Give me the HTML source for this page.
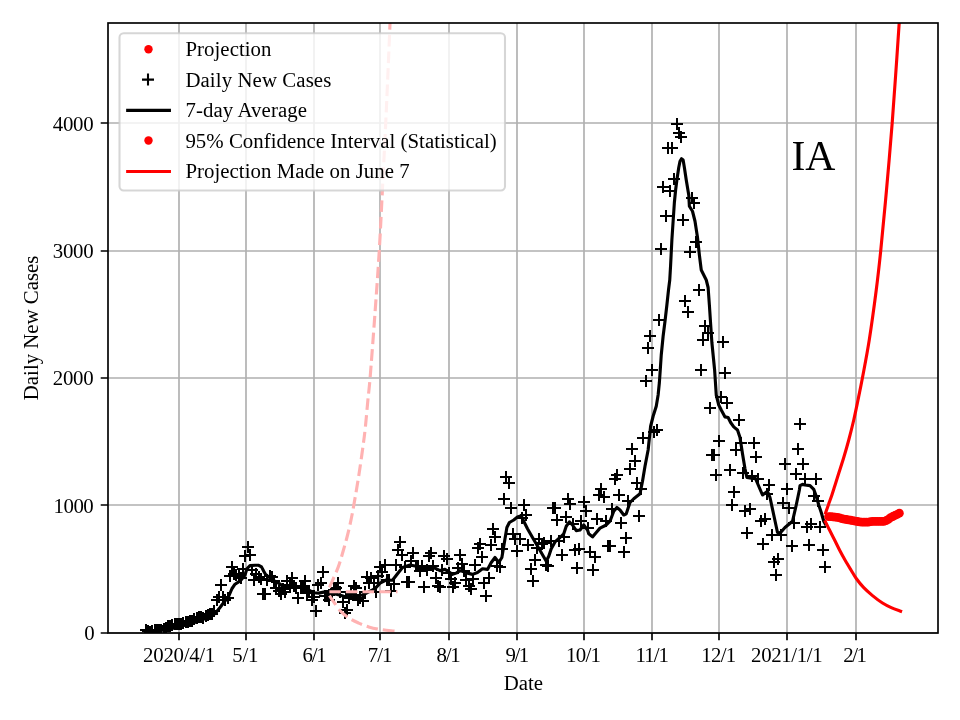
<!DOCTYPE html>
<html lang="en"><head><meta charset="utf-8"><title>IA Daily New Cases</title>
<style>html,body{margin:0;padding:0;background:#fff}body{width:960px;height:720px;overflow:hidden}svg{display:block}text{font-family:"Liberation Serif","Times New Roman",serif;font-size:20.833px;fill:#000}</style>
</head><body>
<svg width="960" height="720" viewBox="0 0 960 720">
<rect width="960" height="720" fill="#fff"/>
<clipPath id="ax"><rect x="108" y="23" width="830" height="610"/></clipPath>
<path d="M179 633 V23 M246 633 V23 M314 633 V23 M380 633 V23 M449 633 V23 M517 633 V23 M584 633 V23 M652 633 V23 M719 633 V23 M787 633 V23 M856 633 V23 M108 633 H938 M108 505 H938 M108 378 H938 M108 251 H938 M108 123 H938" stroke="#b0b0b0" stroke-width="1.667" fill="none"/>
<path d="M179 633 v7.29 M246 633 v7.29 M314 633 v7.29 M380 633 v7.29 M449 633 v7.29 M517 633 v7.29 M584 633 v7.29 M652 633 v7.29 M719 633 v7.29 M787 633 v7.29 M856 633 v7.29 M108 633 h-7.29 M108 505 h-7.29 M108 378 h-7.29 M108 251 h-7.29 M108 123 h-7.29" stroke="#000" stroke-width="1.667" fill="none"/>
<g text-anchor="middle">
<text x="179.18" y="661.8" textLength="72.18">2020/4/1</text>
<text x="245.35" y="661.8" textLength="26">5/1</text>
<text x="314.59" y="661.8" textLength="24.33">6/1</text>
<text x="380.1" y="661.8" textLength="24.74">7/1</text>
<text x="448.62" y="661.8" textLength="24.07">8/1</text>
<text x="517.34" y="661.8" textLength="23.86">9/1</text>
<text x="583.42" y="661.8" textLength="35.07">10/1</text>
<text x="652.26" y="661.8" textLength="33.41">11/1</text>
<text x="718.69" y="661.8" textLength="34.99">12/1</text>
<text x="786.89" y="661.8" textLength="71.66">2021/1/1</text>
<text x="855.09" y="661.8" textLength="23.62">2/1</text>
<text x="523.3" y="689.8">Date</text>
</g>
<g text-anchor="end">
<text x="94.6" y="639.7" textLength="10.3">0</text>
<text x="93.7" y="512.9" textLength="40.1">1000</text>
<text x="93.7" y="384.75" textLength="41">2000</text>
<text x="93.7" y="258.3" textLength="41">3000</text>
<text x="93.7" y="130.8" textLength="41">4000</text>
</g>
<text text-anchor="middle" transform="translate(38.3 327.9) rotate(-90)">Daily New Cases</text>
<g clip-path="url(#ax)" fill="none">
<path d="M140 630h12m-6 -6v12M142 631h12m-6 -6v12M144 632h12m-6 -6v12M146 631h12m-6 -6v12M149 630h12m-6 -6v12M151 630h12m-6 -6v12M153 630h12m-6 -6v12M155 630h12m-6 -6v12M158 629h12m-6 -6v12M160 628h12m-6 -6v12M162 626h12m-6 -6v12M164 626h12m-6 -6v12M166 625h12m-6 -6v12M169 624h12m-6 -6v12M171 624h12m-6 -6v12M173 624h12m-6 -6v12M175 624h12m-6 -6v12M177 623h12m-6 -6v12M180 622h12m-6 -6v12M182 622h12m-6 -6v12M184 621h12m-6 -6v12M186 621h12m-6 -6v12M188 619h12m-6 -6v12M191 618h12m-6 -6v12M193 617h12m-6 -6v12M195 617h12m-6 -6v12M197 618h12m-6 -6v12M200 616h12m-6 -6v12M202 615h12m-6 -6v12M204 614h12m-6 -6v12M206 614h12m-6 -6v12M208 611h12m-6 -6v12M211 600h12m-6 -6v12M213 597h12m-6 -6v12M215 585h12m-6 -6v12M217 597h12m-6 -6v12M219 600h12m-6 -6v12M222 598h12m-6 -6v12M224 576h12m-6 -6v12M226 567h12m-6 -6v12M228 574h12m-6 -6v12M230 575h12m-6 -6v12M233 576h12m-6 -6v12M235 578h12m-6 -6v12M237 569h12m-6 -6v12M239 556h12m-6 -6v12M242 547h12m-6 -6v12M244 555h12m-6 -6v12M246 570h12m-6 -6v12M248 580h12m-6 -6v12M250 574h12m-6 -6v12M253 577h12m-6 -6v12M255 579h12m-6 -6v12M257 594h12m-6 -6v12M259 594h12m-6 -6v12M261 580h12m-6 -6v12M264 576h12m-6 -6v12M266 577h12m-6 -6v12M268 581h12m-6 -6v12M270 588h12m-6 -6v12M273 591h12m-6 -6v12M275 594h12m-6 -6v12M277 589h12m-6 -6v12M279 592h12m-6 -6v12M281 581h12m-6 -6v12M284 585h12m-6 -6v12M286 578h12m-6 -6v12M288 586h12m-6 -6v12M290 588h12m-6 -6v12M292 598h12m-6 -6v12M295 588h12m-6 -6v12M297 586h12m-6 -6v12M299 581h12m-6 -6v12M301 593h12m-6 -6v12M303 591h12m-6 -6v12M306 600h12m-6 -6v12M308 597h12m-6 -6v12M310 611h12m-6 -6v12M312 585h12m-6 -6v12M315 583h12m-6 -6v12M317 572h12m-6 -6v12M319 596h12m-6 -6v12M321 596h12m-6 -6v12M323 600h12m-6 -6v12M326 594h12m-6 -6v12M328 590h12m-6 -6v12M330 588h12m-6 -6v12M332 583h12m-6 -6v12M334 592h12m-6 -6v12M337 602h12m-6 -6v12M339 613h12m-6 -6v12M341 610h12m-6 -6v12M343 598h12m-6 -6v12M345 594h12m-6 -6v12M348 586h12m-6 -6v12M350 588h12m-6 -6v12M352 600h12m-6 -6v12M354 598h12m-6 -6v12M357 601h12m-6 -6v12M359 592h12m-6 -6v12M361 577h12m-6 -6v12M363 583h12m-6 -6v12M365 578h12m-6 -6v12M368 583h12m-6 -6v12M370 592h12m-6 -6v12M372 576h12m-6 -6v12M374 567h12m-6 -6v12M376 572h12m-6 -6v12M379 565h12m-6 -6v12M381 580h12m-6 -6v12M383 580h12m-6 -6v12M385 591h12m-6 -6v12M388 584h12m-6 -6v12M390 565h12m-6 -6v12M392 550h12m-6 -6v12M394 542h12m-6 -6v12M396 555h12m-6 -6v12M399 567h12m-6 -6v12M401 582h12m-6 -6v12M403 582h12m-6 -6v12M405 561h12m-6 -6v12M407 553h12m-6 -6v12M410 566h12m-6 -6v12M412 566h12m-6 -6v12M414 571h12m-6 -6v12M416 566h12m-6 -6v12M418 587h12m-6 -6v12M421 570h12m-6 -6v12M423 556h12m-6 -6v12M425 553h12m-6 -6v12M427 566h12m-6 -6v12M430 578h12m-6 -6v12M432 586h12m-6 -6v12M434 587h12m-6 -6v12M436 570h12m-6 -6v12M438 556h12m-6 -6v12M441 559h12m-6 -6v12M443 573h12m-6 -6v12M445 579h12m-6 -6v12M447 587h12m-6 -6v12M449 583h12m-6 -6v12M452 568h12m-6 -6v12M454 555h12m-6 -6v12M456 564h12m-6 -6v12M458 571h12m-6 -6v12M460 580h12m-6 -6v12M463 586h12m-6 -6v12M465 589h12m-6 -6v12M467 579h12m-6 -6v12M469 565h12m-6 -6v12M472 548h12m-6 -6v12M474 544h12m-6 -6v12M476 557h12m-6 -6v12M478 583h12m-6 -6v12M480 596h12m-6 -6v12M483 578h12m-6 -6v12M485 545h12m-6 -6v12M487 529h12m-6 -6v12M489 537h12m-6 -6v12M491 566h12m-6 -6v12M494 567h12m-6 -6v12M496 549h12m-6 -6v12M498 499h12m-6 -6v12M500 477h12m-6 -6v12M503 483h12m-6 -6v12M505 508h12m-6 -6v12M507 534h12m-6 -6v12M509 539h12m-6 -6v12M511 551h12m-6 -6v12M514 539h12m-6 -6v12M516 518h12m-6 -6v12M518 505h12m-6 -6v12M520 515h12m-6 -6v12M522 545h12m-6 -6v12M525 569h12m-6 -6v12M527 581h12m-6 -6v12M529 560h12m-6 -6v12M531 548h12m-6 -6v12M533 539h12m-6 -6v12M536 544h12m-6 -6v12M538 543h12m-6 -6v12M540 565h12m-6 -6v12M542 566h12m-6 -6v12M545 541h12m-6 -6v12M547 508h12m-6 -6v12M549 508h12m-6 -6v12M551 520h12m-6 -6v12M553 541h12m-6 -6v12M556 555h12m-6 -6v12M558 537h12m-6 -6v12M560 517h12m-6 -6v12M562 499h12m-6 -6v12M564 504h12m-6 -6v12M567 524h12m-6 -6v12M569 550h12m-6 -6v12M571 568h12m-6 -6v12M573 549h12m-6 -6v12M575 521h12m-6 -6v12M578 502h12m-6 -6v12M580 511h12m-6 -6v12M582 528h12m-6 -6v12M584 552h12m-6 -6v12M587 570h12m-6 -6v12M589 557h12m-6 -6v12M591 519h12m-6 -6v12M593 495h12m-6 -6v12M595 489h12m-6 -6v12M598 497h12m-6 -6v12M600 521h12m-6 -6v12M602 546h12m-6 -6v12M604 546h12m-6 -6v12M606 509h12m-6 -6v12M609 479h12m-6 -6v12M611 475h12m-6 -6v12M613 495h12m-6 -6v12M615 523h12m-6 -6v12M618 552h12m-6 -6v12M620 538h12m-6 -6v12M622 501h12m-6 -6v12M624 469h12m-6 -6v12M626 449h12m-6 -6v12M629 461h12m-6 -6v12M631 483h12m-6 -6v12M633 516h12m-6 -6v12M635 489h12m-6 -6v12M637 438h12m-6 -6v12M640 381h12m-6 -6v12M642 348h12m-6 -6v12M644 336h12m-6 -6v12M646 370h12m-6 -6v12M648 432h12m-6 -6v12M651 430h12m-6 -6v12M653 320h12m-6 -6v12M655 249h12m-6 -6v12M657 187h12m-6 -6v12M660 216h12m-6 -6v12M662 148h12m-6 -6v12M664 191h12m-6 -6v12M666 148h12m-6 -6v12M668 179h12m-6 -6v12M671 124h12m-6 -6v12M673 133h12m-6 -6v12M675 137h12m-6 -6v12M677 220h12m-6 -6v12M679 301h12m-6 -6v12M682 312h12m-6 -6v12M684 252h12m-6 -6v12M686 198h12m-6 -6v12M688 203h12m-6 -6v12M690 242h12m-6 -6v12M693 290h12m-6 -6v12M695 370h12m-6 -6v12M697 340h12m-6 -6v12M699 326h12m-6 -6v12M702 333h12m-6 -6v12M704 408h12m-6 -6v12M706 455h12m-6 -6v12M708 455h12m-6 -6v12M710 475h12m-6 -6v12M713 441h12m-6 -6v12M715 397h12m-6 -6v12M717 342h12m-6 -6v12M719 373h12m-6 -6v12M721 403h12m-6 -6v12M724 470h12m-6 -6v12M726 505h12m-6 -6v12M728 492h12m-6 -6v12M730 450h12m-6 -6v12M733 420h12m-6 -6v12M735 443h12m-6 -6v12M737 473h12m-6 -6v12M739 511h12m-6 -6v12M741 533h12m-6 -6v12M744 509h12m-6 -6v12M746 476h12m-6 -6v12M748 443h12m-6 -6v12M750 457h12m-6 -6v12M752 479h12m-6 -6v12M755 521h12m-6 -6v12M757 544h12m-6 -6v12M759 519h12m-6 -6v12M761 494h12m-6 -6v12M763 485h12m-6 -6v12M766 535h12m-6 -6v12M768 562h12m-6 -6v12M770 575h12m-6 -6v12M772 559h12m-6 -6v12M775 535h12m-6 -6v12M777 503h12m-6 -6v12M779 464h12m-6 -6v12M781 489h12m-6 -6v12M783 508h12m-6 -6v12M786 546h12m-6 -6v12M788 523h12m-6 -6v12M790 474h12m-6 -6v12M792 449h12m-6 -6v12M794 424h12m-6 -6v12M797 464h12m-6 -6v12M799 479h12m-6 -6v12M801 527h12m-6 -6v12M803 545h12m-6 -6v12M805 524h12m-6 -6v12M808 496h12m-6 -6v12M810 479h12m-6 -6v12M812 501h12m-6 -6v12M814 527h12m-6 -6v12M817 550h12m-6 -6v12M819 567h12m-6 -6v12" stroke="#000" stroke-width="2"/>
<path d="M145.7 631.5 L155 631 L165 630 L172 628.5 L180 626.5 L188 624.5 L196 622 L204 619 L210 616.5 L215 613.75 L220 607.5 L223.75 602.5 L228.75 596.25 L231.9 588.75 L235 584.2 L240.6 580.6 L245 575 L246.9 568.75 L250 565.6 L255 565.2 L258.75 565.3 L261.5 566.9 L263.75 571.25 L265.6 574.5 L270 578 L275 581.25 L280.6 584.4 L283.5 587.5 L290 587 L296 586.25 L302 588 L308.5 590 L314 592.8 L318.75 593.12 L325 591.88 L331.25 593.12 L337.5 594.38 L343.75 596.25 L350 596.88 L356.25 596.25 L362.5 595 L368.75 591.88 L375 588.75 L380 583.12 L386.25 580 L392.5 580.25 L397.5 573.75 L402.5 567.5 L410 565 L422.5 567.5 L430 567.5 L435 568.12 L440 570.62 L445 569.38 L448.75 571.88 L452.5 574.38 L456.25 573.12 L460 570.62 L467.5 573.12 L472.5 574.38 L477.5 572.5 L482.5 568.75 L487.5 569.38 L491.25 562.5 L495 557.5 L498.75 562.5 L501.88 557.5 L505 538.75 L506.88 527.5 L509.38 522.5 L513.75 520 L517.5 516.88 L521.25 515.62 L523.12 520 L527.5 528.75 L532.5 537.5 L535 541.75 L538.75 548.25 L542.5 554.75 L546.25 561.25 L548.75 556.25 L551.25 548.75 L555 541.88 L560 537.5 L563.75 533.75 L566.25 526.25 L569.38 521.88 L572.5 525 L576.25 530.62 L580 530 L583.75 525 L587.5 530 L588.75 533.75 L592.5 536.88 L596.25 532.5 L600 528.12 L606.25 525 L610 521.25 L613.75 511.25 L616.88 507.5 L620 510 L623.75 515 L626.25 513.75 L630 502.5 L633.75 498.75 L640 493.75 L642.5 481.25 L645 466.25 L648.12 450 L650.62 426.25 L653.12 416.25 L656.25 406.25 L658.12 395 L659.38 382.5 L660.25 370 L661.25 355 L663.12 336.25 L665 321.25 L666.88 305 L668.5 290 L669.75 280 L670.62 265 L671.88 240 L673.12 221.25 L674.38 202.5 L675.62 190 L676.88 180 L678.75 167.5 L680 161.25 L681.5 158.75 L683.12 160 L684.38 167.5 L686.25 180 L688.75 195 L689.38 206.25 L692.5 211.25 L695 221.25 L697.5 237.5 L699.38 255 L701.25 270 L703.75 275 L706.25 280 L708.12 287.5 L709.38 305 L710.62 323.75 L711.88 342.5 L713.5 358.75 L714.62 370 L716.25 395 L718.75 405 L721.25 410 L725 416.88 L728.12 417.5 L730.62 422.5 L733.75 426.88 L737.5 430 L740 437.5 L742.5 453.75 L745 468.75 L746.88 477.5 L751.25 478.12 L755 477.5 L758.75 486.25 L762.5 495 L767.5 491.25 L770 497.5 L773.75 515 L777.5 532.5 L780 533.12 L785 527.5 L792.5 521.25 L796.25 505 L799.38 490 L800 485.62 L802.5 484.38 L805 485 L810 485.62 L813.75 489.38 L816.25 496.25 L818.75 505 L821.25 512.5 L823.75 521.25 L825.25 524" stroke="#000" stroke-width="3.125" stroke-linejoin="round" stroke-linecap="square"/>
<path d="M329.4 587.5C329.82 586.57 330.4 585.38 331.9 581.9C333.4 578.42 336.53 571.71 338.4 566.6C340.27 561.49 341.58 556.48 343.1 551.25C344.62 546.02 346.14 540.67 347.5 535.25C348.86 529.83 350.17 523.96 351.25 518.75C352.33 513.54 352.81 510.79 354 504C355.19 497.21 356.98 487 358.4 478C359.82 469 361.35 458.37 362.5 450C363.65 441.63 364.4 436.13 365.3 427.8C366.2 419.47 367.08 408.52 367.9 400C368.72 391.48 369.02 391.2 370.2 376.7C371.38 362.2 373.48 334.12 375 313C376.52 291.88 377.98 272.17 379.3 250C380.62 227.83 381.82 201.25 382.9 180C383.97 158.75 384.9 140.5 385.75 122.5C386.6 104.5 387.29 88.46 388 72C388.71 55.54 389.52 35.75 390 23.75C390.48 11.75 390.75 3.96 390.9 0" stroke="#ffb2b2" stroke-width="3.125" stroke-dasharray="11.56 5"/>
<path d="M329.4 595.6C329.83 596.25 331.07 598.14 332 599.5C332.93 600.86 333.46 601.68 335 603.75C336.54 605.82 338.75 609.4 341.25 611.9C343.75 614.4 347.08 616.88 350 618.75C352.92 620.62 355.62 621.74 358.75 623.1C361.88 624.46 365.21 625.85 368.75 626.9C372.29 627.95 375.83 628.72 380 629.4C384.17 630.08 390.83 630.68 393.75 631C396.67 631.32 396.88 631.25 397.5 631.3" stroke="#ffb2b2" stroke-width="3.125" stroke-dasharray="11.56 5"/>
<path d="M329.4 591.8C340.75 591.8 386.15 591.8 397.5 591.8" stroke="#ffb2b2" stroke-width="3.125" stroke-dasharray="11.56 5"/>
<path d="M825.6 512.8C826.12 511.33 827.65 506.97 828.7 504C829.75 501.03 830.85 498.13 831.9 495C832.95 491.87 833.86 488.83 835 485.2C836.14 481.57 837.29 477.82 838.75 473.2C840.21 468.58 842.08 463.03 843.75 457.5C845.42 451.97 847.08 446.25 848.75 440C850.42 433.75 852.21 426.67 853.75 420C855.29 413.33 856.54 407.08 858 400C859.46 392.92 860.62 387.5 862.5 377.5C864.38 367.5 866.96 354.58 869.25 340C871.54 325.42 874.33 304.92 876.25 290C878.17 275.08 879.04 267.17 880.75 250.5C882.46 233.83 884.59 211.27 886.5 190C888.41 168.73 890.62 142.9 892.2 122.9C893.78 102.9 894.83 86.67 896 70C897.17 53.33 898.47 33.9 899.2 22.9C899.93 11.9 900.2 7.15 900.4 4" stroke="#f00" stroke-width="3.125" stroke-linejoin="round" stroke-linecap="square"/>
<path d="M825.4 521.6C826.07 522.97 827.87 526.73 829.4 529.8C830.93 532.87 832.87 536.55 834.6 540C836.33 543.45 838.07 547.17 839.8 550.5C841.53 553.83 843.13 556.75 845 560C846.87 563.25 849.12 566.92 851 570C852.88 573.08 854.12 575.55 856.25 578.5C858.38 581.45 861.04 584.85 863.75 587.7C866.46 590.55 869.38 593.05 872.5 595.6C875.62 598.15 879.38 601 882.5 603C885.62 605 888.23 606.23 891.25 607.6C894.27 608.97 899.04 610.6 900.6 611.2" stroke="#f00" stroke-width="3.125" stroke-linejoin="round" stroke-linecap="square"/>
<g fill="#f00">
<circle cx="828.6" cy="516.6" r="4.4"/>
<circle cx="830.81" cy="516.61" r="4.4"/>
<circle cx="833.02" cy="516.82" r="4.4"/>
<circle cx="835.23" cy="517.03" r="4.4"/>
<circle cx="837.45" cy="517.33" r="4.4"/>
<circle cx="839.66" cy="517.97" r="4.4"/>
<circle cx="841.87" cy="518.6" r="4.4"/>
<circle cx="844.08" cy="519.13" r="4.4"/>
<circle cx="846.29" cy="519.49" r="4.4"/>
<circle cx="848.5" cy="519.84" r="4.4"/>
<circle cx="850.72" cy="520.24" r="4.4"/>
<circle cx="852.93" cy="520.69" r="4.4"/>
<circle cx="855.14" cy="521.13" r="4.4"/>
<circle cx="857.35" cy="521.49" r="4.4"/>
<circle cx="859.56" cy="521.83" r="4.4"/>
<circle cx="861.77" cy="522.17" r="4.4"/>
<circle cx="863.98" cy="522.2" r="4.4"/>
<circle cx="866.2" cy="522.2" r="4.4"/>
<circle cx="868.41" cy="522.2" r="4.4"/>
<circle cx="870.62" cy="521.65" r="4.4"/>
<circle cx="872.83" cy="521.4" r="4.4"/>
<circle cx="875.04" cy="521.4" r="4.4"/>
<circle cx="877.25" cy="521.4" r="4.4"/>
<circle cx="879.46" cy="521.4" r="4.4"/>
<circle cx="881.68" cy="521.4" r="4.4"/>
<circle cx="883.89" cy="521.4" r="4.4"/>
<circle cx="886.1" cy="520.56" r="4.4"/>
<circle cx="888.31" cy="519.33" r="4.4"/>
<circle cx="890.52" cy="517.73" r="4.4"/>
<circle cx="892.73" cy="516.52" r="4.4"/>
<circle cx="894.95" cy="515.45" r="4.4"/>
<circle cx="897.16" cy="514.39" r="4.4"/>
<circle cx="899.37" cy="513.14" r="4.4"/>
</g>
</g>
<text x="791.5" y="169.8" style="font-size:41.667px">IA</text>
<rect x="119.5" y="33.3" width="385.5" height="157.2" rx="4.2" ry="4.2" fill="#fff" fill-opacity="0.8" stroke="#ccc" stroke-opacity="0.8" stroke-width="2.083"/>
<circle cx="148.5" cy="49.3" r="4.2" fill="#f00"/>
<path d="M142 79.6h12m-6 -6v12" stroke="#000" stroke-width="2.083" fill="none"/>
<path d="M127.7 110.4h41.7" stroke="#000" stroke-width="3.125" stroke-linecap="square" fill="none"/>
<circle cx="148.5" cy="140.5" r="4.2" fill="#f00"/>
<path d="M127.7 171.5h41.7" stroke="#f00" stroke-width="3.125" stroke-linecap="square" fill="none"/>
<text x="185.4" y="56.3" textLength="86.1">Projection</text>
<text x="185.4" y="86.75" textLength="145.9">Daily New Cases</text>
<text x="185.4" y="117.2" textLength="121.7">7-day Average</text>
<text x="185.4" y="147.65" textLength="311.4">95% Confidence Interval (Statistical)</text>
<text x="185.4" y="178.1" textLength="224.3">Projection Made on June 7</text>
<rect x="108" y="23" width="830" height="610" fill="none" stroke="#000" stroke-width="1.667" stroke-linejoin="miter"/>
</svg>
</body></html>
